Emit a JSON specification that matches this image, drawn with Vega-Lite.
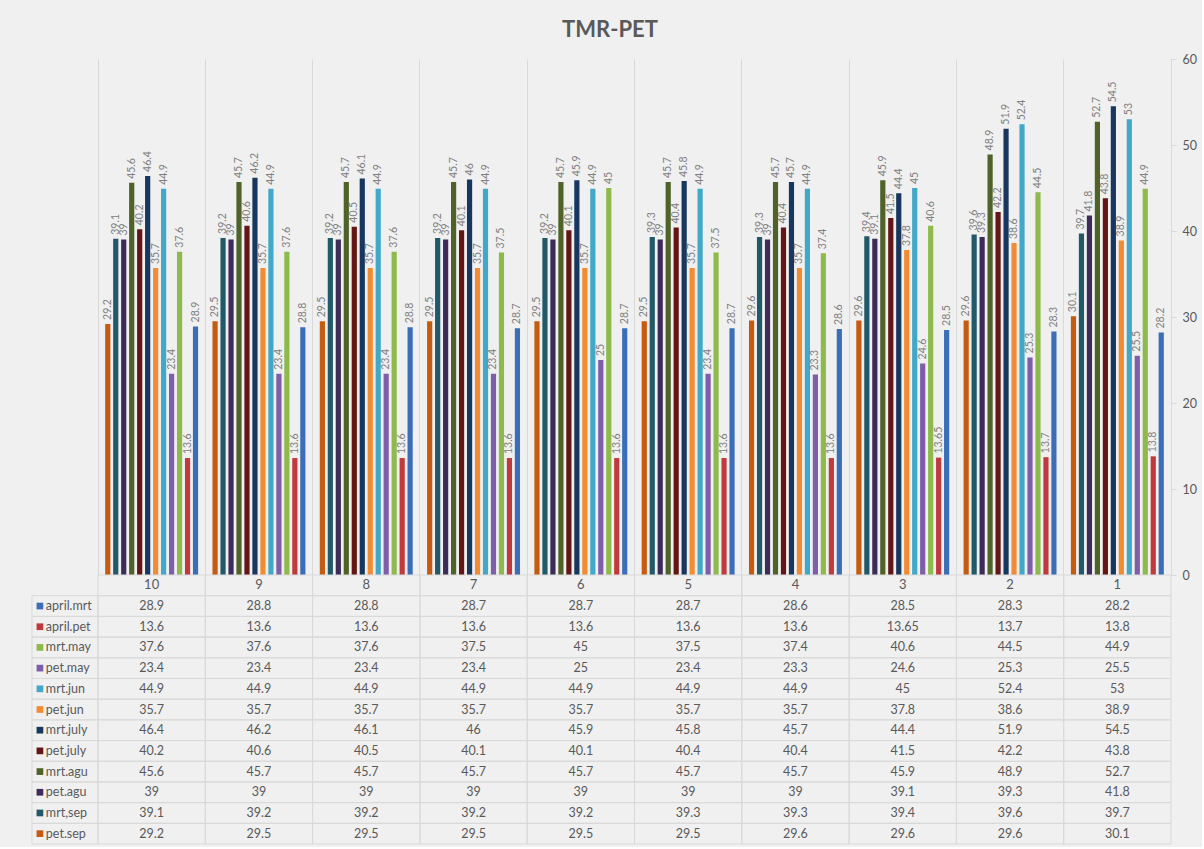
{
 "$schema": "https://vega.github.io/schema/vega-lite/v6.json",
 "background": "#F0F0F0",
 "padding": {"left": 31, "top": 19, "right": 5, "bottom": 2},
 "title": {"text": "TMR-PET", "font": "Lato", "fontSize": 22, "fontWeight": "bold", "color": "#595959", "anchor": "middle", "offset": 11, "dx": -4},
 "config": {"view": {"stroke": null}, "font": "Lato"},
 "bounds": "flush",
 "columns": 2,
 "spacing": 0,
 "datasets": {"d": [
  {"c":"10","s":"april.mrt","v":28.9},{"c":"9","s":"april.mrt","v":28.8},{"c":"8","s":"april.mrt","v":28.8},{"c":"7","s":"april.mrt","v":28.7},{"c":"6","s":"april.mrt","v":28.7},{"c":"5","s":"april.mrt","v":28.7},{"c":"4","s":"april.mrt","v":28.6},{"c":"3","s":"april.mrt","v":28.5},{"c":"2","s":"april.mrt","v":28.3},{"c":"1","s":"april.mrt","v":28.2},
  {"c":"10","s":"april.pet","v":13.6},{"c":"9","s":"april.pet","v":13.6},{"c":"8","s":"april.pet","v":13.6},{"c":"7","s":"april.pet","v":13.6},{"c":"6","s":"april.pet","v":13.6},{"c":"5","s":"april.pet","v":13.6},{"c":"4","s":"april.pet","v":13.6},{"c":"3","s":"april.pet","v":13.65},{"c":"2","s":"april.pet","v":13.7},{"c":"1","s":"april.pet","v":13.8},
  {"c":"10","s":"mrt.may","v":37.6},{"c":"9","s":"mrt.may","v":37.6},{"c":"8","s":"mrt.may","v":37.6},{"c":"7","s":"mrt.may","v":37.5},{"c":"6","s":"mrt.may","v":45},{"c":"5","s":"mrt.may","v":37.5},{"c":"4","s":"mrt.may","v":37.4},{"c":"3","s":"mrt.may","v":40.6},{"c":"2","s":"mrt.may","v":44.5},{"c":"1","s":"mrt.may","v":44.9},
  {"c":"10","s":"pet.may","v":23.4},{"c":"9","s":"pet.may","v":23.4},{"c":"8","s":"pet.may","v":23.4},{"c":"7","s":"pet.may","v":23.4},{"c":"6","s":"pet.may","v":25},{"c":"5","s":"pet.may","v":23.4},{"c":"4","s":"pet.may","v":23.3},{"c":"3","s":"pet.may","v":24.6},{"c":"2","s":"pet.may","v":25.3},{"c":"1","s":"pet.may","v":25.5},
  {"c":"10","s":"mrt.jun","v":44.9},{"c":"9","s":"mrt.jun","v":44.9},{"c":"8","s":"mrt.jun","v":44.9},{"c":"7","s":"mrt.jun","v":44.9},{"c":"6","s":"mrt.jun","v":44.9},{"c":"5","s":"mrt.jun","v":44.9},{"c":"4","s":"mrt.jun","v":44.9},{"c":"3","s":"mrt.jun","v":45},{"c":"2","s":"mrt.jun","v":52.4},{"c":"1","s":"mrt.jun","v":53},
  {"c":"10","s":"pet.jun","v":35.7},{"c":"9","s":"pet.jun","v":35.7},{"c":"8","s":"pet.jun","v":35.7},{"c":"7","s":"pet.jun","v":35.7},{"c":"6","s":"pet.jun","v":35.7},{"c":"5","s":"pet.jun","v":35.7},{"c":"4","s":"pet.jun","v":35.7},{"c":"3","s":"pet.jun","v":37.8},{"c":"2","s":"pet.jun","v":38.6},{"c":"1","s":"pet.jun","v":38.9},
  {"c":"10","s":"mrt.july","v":46.4},{"c":"9","s":"mrt.july","v":46.2},{"c":"8","s":"mrt.july","v":46.1},{"c":"7","s":"mrt.july","v":46},{"c":"6","s":"mrt.july","v":45.9},{"c":"5","s":"mrt.july","v":45.8},{"c":"4","s":"mrt.july","v":45.7},{"c":"3","s":"mrt.july","v":44.4},{"c":"2","s":"mrt.july","v":51.9},{"c":"1","s":"mrt.july","v":54.5},
  {"c":"10","s":"pet.july","v":40.2},{"c":"9","s":"pet.july","v":40.6},{"c":"8","s":"pet.july","v":40.5},{"c":"7","s":"pet.july","v":40.1},{"c":"6","s":"pet.july","v":40.1},{"c":"5","s":"pet.july","v":40.4},{"c":"4","s":"pet.july","v":40.4},{"c":"3","s":"pet.july","v":41.5},{"c":"2","s":"pet.july","v":42.2},{"c":"1","s":"pet.july","v":43.8},
  {"c":"10","s":"mrt.agu","v":45.6},{"c":"9","s":"mrt.agu","v":45.7},{"c":"8","s":"mrt.agu","v":45.7},{"c":"7","s":"mrt.agu","v":45.7},{"c":"6","s":"mrt.agu","v":45.7},{"c":"5","s":"mrt.agu","v":45.7},{"c":"4","s":"mrt.agu","v":45.7},{"c":"3","s":"mrt.agu","v":45.9},{"c":"2","s":"mrt.agu","v":48.9},{"c":"1","s":"mrt.agu","v":52.7},
  {"c":"10","s":"pet.agu","v":39},{"c":"9","s":"pet.agu","v":39},{"c":"8","s":"pet.agu","v":39},{"c":"7","s":"pet.agu","v":39},{"c":"6","s":"pet.agu","v":39},{"c":"5","s":"pet.agu","v":39},{"c":"4","s":"pet.agu","v":39},{"c":"3","s":"pet.agu","v":39.1},{"c":"2","s":"pet.agu","v":39.3},{"c":"1","s":"pet.agu","v":41.8},
  {"c":"10","s":"mrt,sep","v":39.1},{"c":"9","s":"mrt,sep","v":39.2},{"c":"8","s":"mrt,sep","v":39.2},{"c":"7","s":"mrt,sep","v":39.2},{"c":"6","s":"mrt,sep","v":39.2},{"c":"5","s":"mrt,sep","v":39.3},{"c":"4","s":"mrt,sep","v":39.3},{"c":"3","s":"mrt,sep","v":39.4},{"c":"2","s":"mrt,sep","v":39.6},{"c":"1","s":"mrt,sep","v":39.7},
  {"c":"10","s":"pet.sep","v":29.2},{"c":"9","s":"pet.sep","v":29.5},{"c":"8","s":"pet.sep","v":29.5},{"c":"7","s":"pet.sep","v":29.5},{"c":"6","s":"pet.sep","v":29.5},{"c":"5","s":"pet.sep","v":29.5},{"c":"4","s":"pet.sep","v":29.6},{"c":"3","s":"pet.sep","v":29.6},{"c":"2","s":"pet.sep","v":29.6},{"c":"1","s":"pet.sep","v":30.1}
 ]},
 "concat": [
  {
   "width": 66, "height": 516,
   "data": {"values": [{}]},
   "mark": {"type": "text", "text": ""},
   "encoding": {}
  },
  {
   "width": 1073, "height": 516,
   "data": {"name": "d"},
   "encoding": {
    "x": {"field": "c", "type": "nominal", "sort": ["10","9","8","7","6","5","4","3","2","1"], "scale": {"paddingInner": 0, "paddingOuter": 0},
          "axis": {"title": null, "labels": false, "ticks": false, "domain": false, "grid": true, "gridColor": "#D9D9D9", "bandPosition": 0}},
    "xOffset": {"field": "s", "type": "nominal", "sort": ["pet.sep","mrt,sep","pet.agu","mrt.agu","pet.july","mrt.july","pet.jun","mrt.jun","pet.may","mrt.may","april.pet","april.mrt"], "scale": {"paddingInner": 0.35, "paddingOuter": 0.9}},
    "y": {"field": "v", "type": "quantitative", "scale": {"domain": [0, 60], "nice": false},
          "axis": {"orient": "right", "title": null, "values": [0,10,20,30,40,50,60], "grid": false, "domainColor": "#D9D9D9", "tickColor": "#D9D9D9", "tickSize": 5, "labelPadding": 6, "labelFontSize": 12.5, "labelColor": "#595959", "labelFont": "Lato"}}
   },
   "layer": [
    {"mark": {"type": "bar"},
     "encoding": {"color": {"field": "s", "type": "nominal",
       "scale": {"domain": ["april.mrt","april.pet","mrt.may","pet.may","mrt.jun","pet.jun","mrt.july","pet.july","mrt.agu","pet.agu","mrt,sep","pet.sep"],
                 "range": ["#3C6EB7","#C0393D","#8DBA4B","#7E5EA8","#41A8C8","#F38B32","#17375E","#641515","#4F6228","#3D2C58","#215968","#C55A11"]},
       "legend": null}}},
    {"mark": {"type": "text", "angle": 270, "align": "left", "baseline": "middle", "dx": 4, "fontSize": 10.5, "color": "#808080", "font": "Lato"},
     "encoding": {"text": {"field": "v", "type": "nominal"}}}
   ]
  },
  {
   "width": 66, "height": 269,
   "data": {"name": "d"},
   "transform": [{"filter": "datum.c === '10'"}],
   "encoding": {
    "y": {"field": "s", "type": "nominal", "scale": {"domain": ["hdr","april.mrt","april.pet","mrt.may","pet.may","mrt.jun","pet.jun","mrt.july","pet.july","mrt.agu","pet.agu","mrt,sep","pet.sep"], "paddingInner": 0, "paddingOuter": 0}, "axis": null}
   },
   "layer": [
    {"mark": {"type": "rect", "fillOpacity": 0, "stroke": "#D9D9D9", "strokeWidth": 1},
     "encoding": {"x": {"datum": 0, "type": "quantitative", "scale": {"domain": [0, 1]}, "axis": null}, "x2": {"datum": 1}}},
    {"mark": {"type": "point", "shape": "square", "filled": true, "size": 45, "opacity": 1},
     "encoding": {"x": {"datum": 0.12, "type": "quantitative"},
       "color": {"field": "s", "type": "nominal",
       "scale": {"domain": ["april.mrt","april.pet","mrt.may","pet.may","mrt.jun","pet.jun","mrt.july","pet.july","mrt.agu","pet.agu","mrt,sep","pet.sep"],
                 "range": ["#3C6EB7","#C0393D","#8DBA4B","#7E5EA8","#41A8C8","#F38B32","#17375E","#641515","#4F6228","#3D2C58","#215968","#C55A11"]},
       "legend": null}}},
    {"mark": {"type": "text", "align": "left", "baseline": "middle", "fontSize": 12.5, "color": "#595959", "font": "Lato"},
     "encoding": {"x": {"datum": 0.21, "type": "quantitative"}, "text": {"field": "s", "type": "nominal"}}}
   ]
  },
  {
   "width": 1073, "height": 269,
   "data": {"name": "d"},
   "encoding": {
    "x": {"field": "c", "type": "nominal", "sort": ["10","9","8","7","6","5","4","3","2","1"], "scale": {"paddingInner": 0, "paddingOuter": 0}, "axis": null},
    "y": {"field": "s", "type": "nominal", "scale": {"domain": ["hdr","april.mrt","april.pet","mrt.may","pet.may","mrt.jun","pet.jun","mrt.july","pet.july","mrt.agu","pet.agu","mrt,sep","pet.sep"], "paddingInner": 0, "paddingOuter": 0}, "axis": null}
   },
   "layer": [
    {"mark": {"type": "rect", "fillOpacity": 0, "stroke": "#D9D9D9", "strokeWidth": 1}},
    {"mark": {"type": "text", "baseline": "middle", "fontSize": 12.5, "color": "#595959", "font": "Lato"},
     "encoding": {"text": {"field": "v", "type": "nominal"}}},
    {"transform": [{"filter": "datum.s === 'april.mrt'"}],
     "mark": {"type": "rect", "fillOpacity": 0, "stroke": "#D9D9D9", "strokeWidth": 1},
     "encoding": {"y": {"datum": "hdr"}}},
    {"transform": [{"filter": "datum.s === 'april.mrt'"}],
     "mark": {"type": "text", "baseline": "middle", "fontSize": 13, "color": "#595959", "font": "Lato"},
     "encoding": {"y": {"datum": "hdr"}, "text": {"field": "c", "type": "nominal"}}}
   ]
  }
 ]
}
